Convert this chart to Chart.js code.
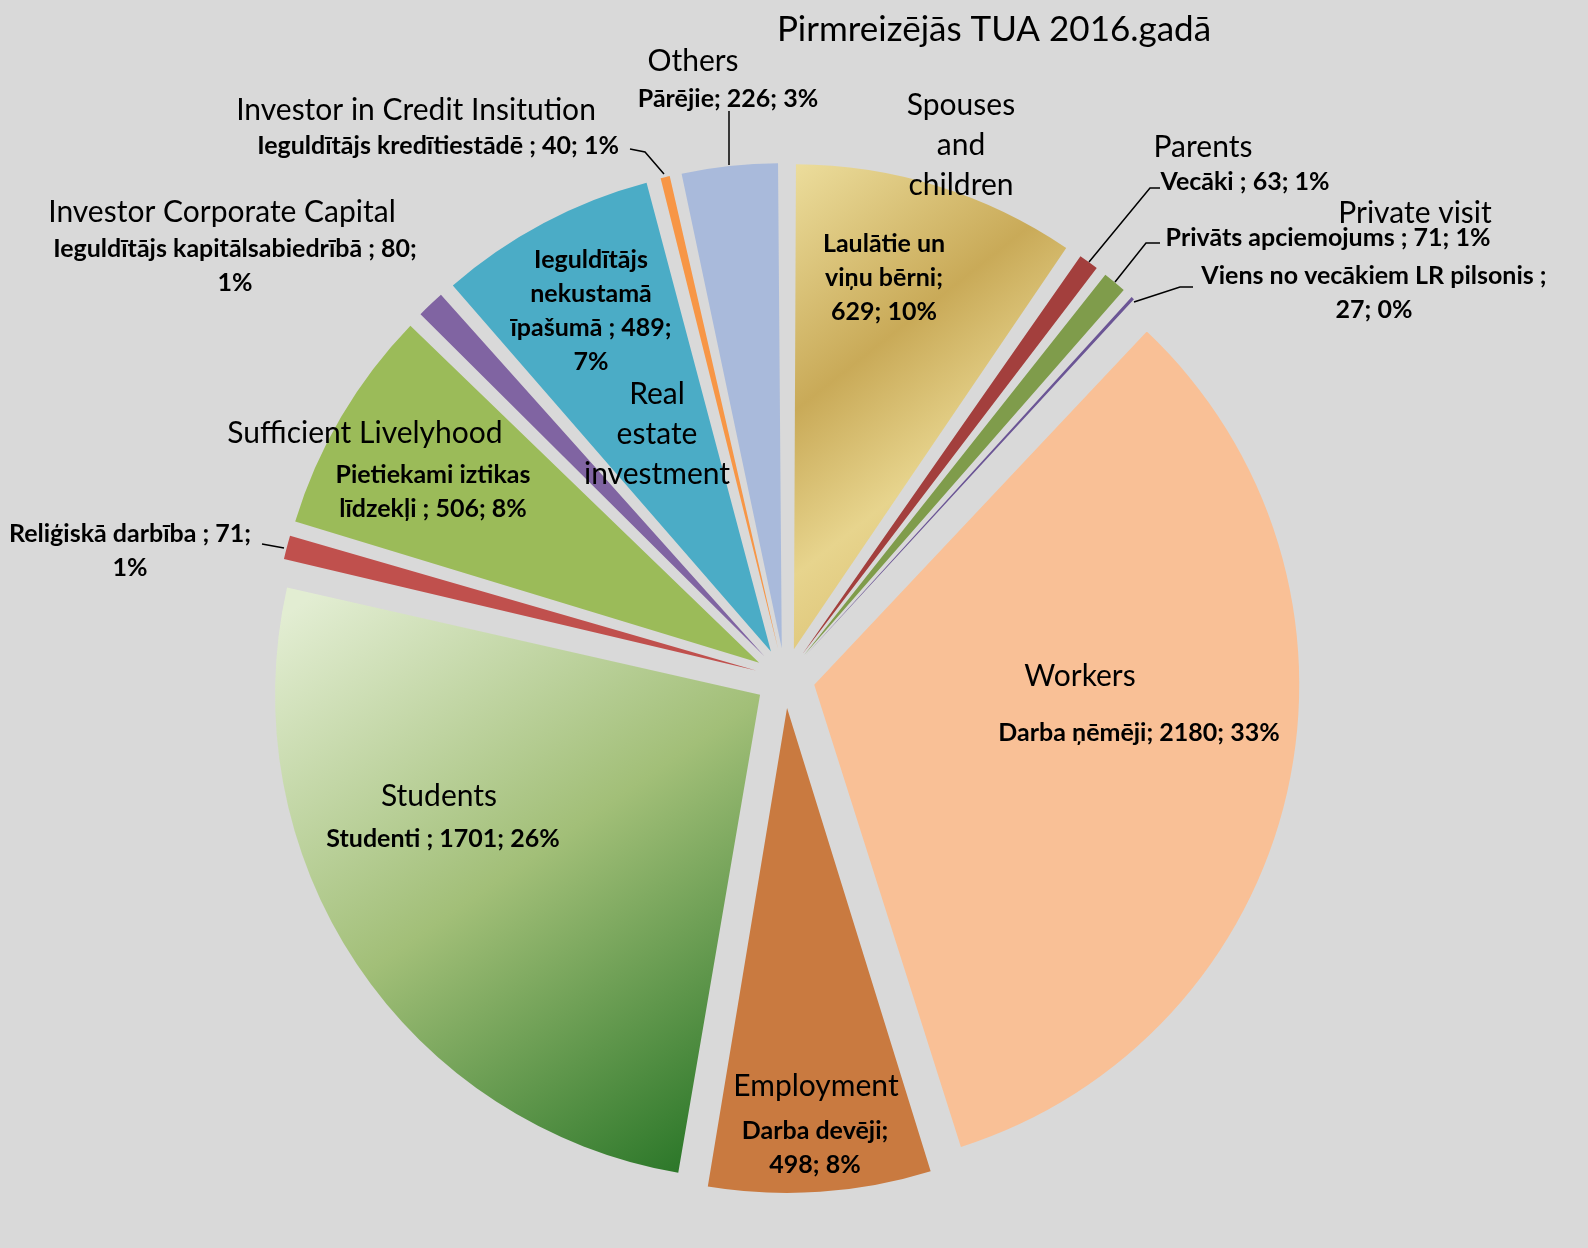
<!DOCTYPE html>
<html lang="lv">
<head>
<meta charset="UTF-8">
<title>Pirmreizējās TUA 2016.gadā</title>
<script src="https://cdn.jsdelivr.net/npm/chart.js"></script>
<style>
    body { margin: 0; background: #d9d9d9; }
    #wrap { position: relative; width: 1588px; height: 1248px; }
</style>
</head>
<body>
<div id="wrap"><canvas id="tuaChart"></canvas></div>
<script>
const chartTitle = 'Pirmreizējās TUA 2016.gadā';
const categories = ['Laulātie un viņu bērni', 'Vecāki ', 'Privāts apciemojums ', 'Viens no vecākiem LR pilsonis ',
    'Darba ņēmēji', 'Darba devēji', 'Studenti ', 'Reliģiskā darbība ', 'Pietiekami iztikas līdzekļi ',
    'Ieguldītājs kapitālsabiedrībā ', 'Ieguldītājs nekustamā īpašumā ', 'Ieguldītājs kredītiestādē ', 'Pārējie'];
const englishNames = ['Spouses\nand\nchildren', 'Parents', 'Private visit', '', 'Workers', 'Employment', 'Students', '',
    'Sufficient Livelyhood', 'Investor Corporate Capital', 'Real\nestate\ninvestment', 'Investor in Credit Insitution', 'Others'];
const permits = [629, 63, 71, 27, 2180, 498, 1701, 71, 506, 80, 489, 40, 226];

// styling
const sliceColors = ['#d9bf6c', '#a33f3d', '#7f9c4b', '#6b5595', '#f9c096', '#c97a40', '#8db469',
    '#c0504d', '#9bbb59', '#8064a2', '#4bacc6', '#f79646', '#a9badb'];
const PIE_R = 485;
const SHIFT = 30; // how far each slice is pulled out

// label placement: centre x, first line y, wrap width
const latLayout = [
    {x: 884, y: 244, w: 150}, {x: 1245, y: 182, w: 400}, {x: 1328, y: 238, w: 400}, {x: 1374, y: 276, w: 370},
    {x: 1139, y: 733, w: 400}, {x: 815, y: 1131, w: 160}, {x: 443, y: 839, w: 400}, {x: 130, y: 534, w: 250},
    {x: 433, y: 475, w: 215}, {x: 235, y: 249, w: 390}, {x: 591, y: 260, w: 165}, {x: 438, y: 146, w: 460},
    {x: 728, y: 99, w: 400}
];
const engLayout = [
    {x: 961, y: 105}, {x: 1203, y: 147}, {x: 1415, y: 213}, null, {x: 1080, y: 676}, {x: 816, y: 1086},
    {x: 439, y: 796}, null, {x: 365, y: 433}, {x: 222, y: 212}, {x: 657, y: 394}, {x: 416, y: 110}, {x: 693, y: 61}
];
const leaders = [
    [[1160, 188], [1150, 188], [1089, 262]],
    [[1160, 243], [1146, 243], [1115, 282]],
    [[1193, 287], [1180, 287], [1134, 302]],
    [[262, 544], [284, 548]],
    [[630, 149], [645, 152], [664, 174]],
    [[729, 111], [729, 165]]
];

const total = permits.reduce((a, b) => a + b, 0);

function sliceFill(context) {
    const i = context.dataIndex;
    const area = context.chart.chartArea;
    if (!area || (i !== 0 && i !== 6)) return sliceColors[i];
    const c = context.chart.ctx;
    const cx = (area.left + area.right) / 2, cy = (area.top + area.bottom) / 2;
    if (i === 0) {
        const g = c.createLinearGradient(cx, cy - PIE_R, cx + PIE_R * 0.55, cy - PIE_R * 0.3);
        g.addColorStop(0, '#ecdd9c');
        g.addColorStop(0.45, '#c9aa58');
        g.addColorStop(0.75, '#e7d48d');
        g.addColorStop(1, '#dcc274');
        return g;
    }
    const g = c.createLinearGradient(cx - PIE_R, cy - PIE_R * 0.15, cx - PIE_R * 0.2, cy + PIE_R);
    g.addColorStop(0, '#e2edd2');
    g.addColorStop(0.5, '#a2bf78');
    g.addColorStop(1, '#2d782a');
    return g;
}

// chart.js grows small arcs when they are offset; keep every slice on the same radius
const evenRadius = {
    id: 'evenRadius',
    beforeDatasetDraw(chart, args) {
        args.meta.data.forEach(arc => {
            const o = (arc.options.offset || 0) / 4;
            const fix = 1 - Math.sin(Math.min(Math.PI, arc.circumference));
            arc.outerRadius = PIE_R - o * fix;
        });
    }
};

function wrapLines(ctx, text, maxW) {
    const words = text.split(' ').filter(w => w.length);
    const lines = [];
    let line = '';
    words.forEach(w => {
        const test = line ? line + ' ' + w : w;
        if (line && ctx.measureText(test).width > maxW) {
            lines.push(line);
            line = w;
        } else {
            line = test;
        }
    });
    if (line) lines.push(line);
    return lines;
}

const labelPlugin = {
    id: 'labels',
    afterDraw(chart) {
        const ctx = chart.ctx;
        ctx.save();
        ctx.fillStyle = '#000';
        ctx.textAlign = 'center';
        ctx.textBaseline = 'middle';

        ctx.font = '35px Lato';
        ctx.fillText(chartTitle, 994, 30);

        // leader lines
        ctx.strokeStyle = '#000';
        ctx.lineWidth = 1.5;
        leaders.forEach(pts => {
            ctx.beginPath();
            pts.forEach((p, k) => k ? ctx.lineTo(p[0], p[1]) : ctx.moveTo(p[0], p[1]));
            ctx.stroke();
        });

        // english names
        ctx.font = '30px Lato';
        englishNames.forEach((name, i) => {
            const pos = engLayout[i];
            if (!name || !pos) return;
            name.split('\n').forEach((ln, k) => ctx.fillText(ln, pos.x, pos.y + k * 40));
        });

        // latvian data labels
        ctx.font = 'bold 25px Lato';
        categories.forEach((cat, i) => {
            const pct = Math.round(permits[i] / total * 100);
            const text = `${cat}; ${permits[i]}; ${pct}%`;
            const pos = latLayout[i];
            wrapLines(ctx, text, pos.w).forEach((ln, k) => ctx.fillText(ln, pos.x, pos.y + k * 34));
        });
        ctx.restore();
    }
};

new Chart(document.getElementById('tuaChart'), {
    type: 'pie',
    data: {
        labels: categories,
        datasets: [{
            data: permits,
            backgroundColor: sliceFill,
            borderWidth: 0,
            offset: SHIFT * 4,
            radius: PIE_R
        }]
    },
    options: {
        responsive: true,
        maintainAspectRatio: false,
        animation: false,
        events: [],
        layout: { padding: { left: 0, right: 18, top: 110, bottom: 2 } },
        plugins: {
            legend: { display: false },
            tooltip: { enabled: false },
            title: { display: false }
        }
    },
    plugins: [evenRadius, labelPlugin]
});
</script>
</body>
</html>
